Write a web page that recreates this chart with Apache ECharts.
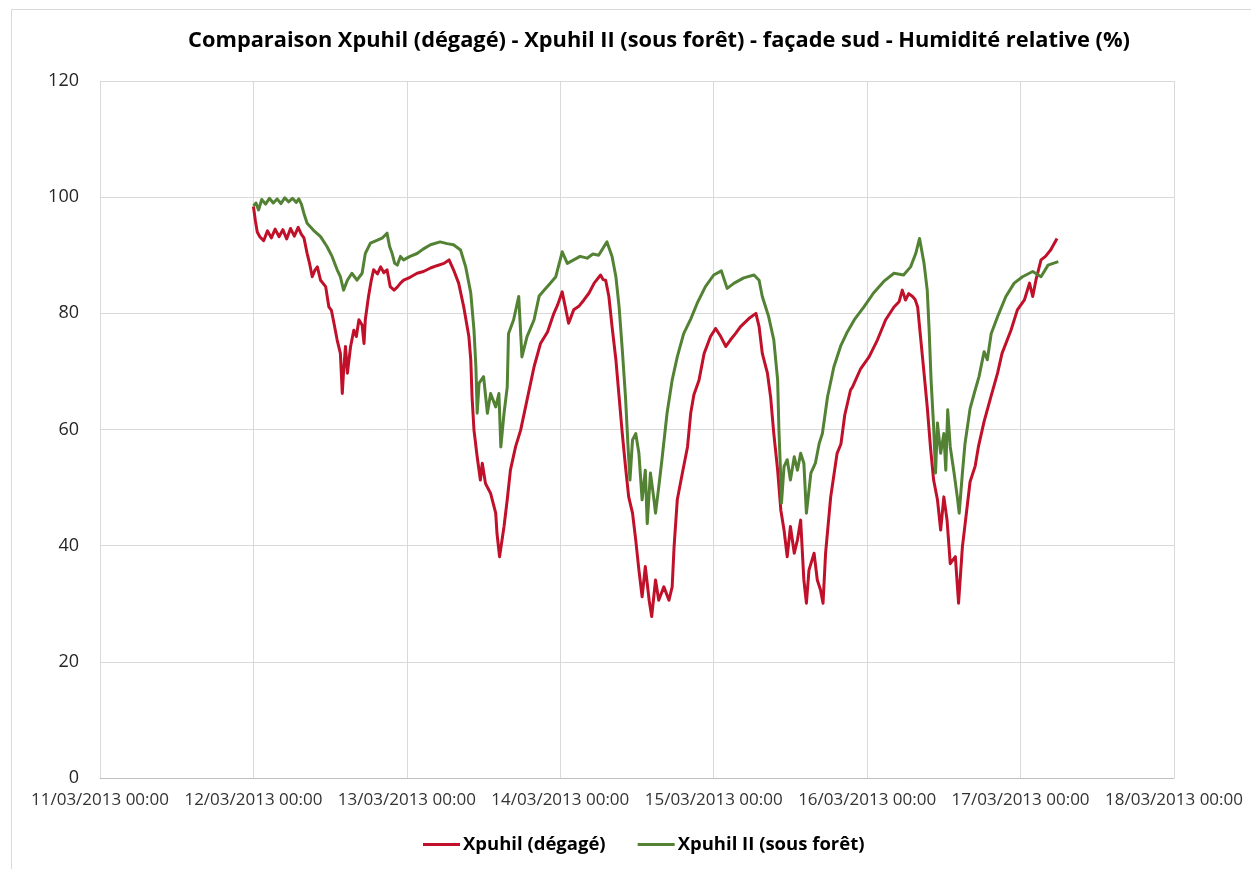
<!DOCTYPE html>
<html>
<head>
<meta charset="utf-8">
<title>Humidité relative - Xpuhil</title>
<script src="https://cdn.jsdelivr.net/npm/echarts@6/dist/echarts.min.js"></script>
<style>
  html, body { margin: 0; padding: 0; background: #ffffff; }
  #chart { width: 1251px; height: 869px; }
</style>
</head>
<body>
<div id="chart"></div>
<script>
// Axis range: hours counted from 11/03/2013 00:00, one tick per day
const AXIS_START = new Date(2013, 2, 11, 0, 0);
const AXIS_DAYS = 7;
// Records begin 12/03/2013 00:00 (24 h after the axis start)
const RECORD_OFFSET_H = 24;

const seriesNames = ['Xpuhil (dégagé)', 'Xpuhil II (sous forêt)'];

// Xpuhil (dégagé): hours since 12/03/2013 00:00 and relative humidity (%)
const redHours = [
  0, 0.3, 0.6, 1.0, 1.6, 2.2, 2.8, 3.4, 4.0, 4.6, 5.2, 5.8, 6.4, 7.0, 7.5, 7.9, 8.4, 8.8, 9.2, 9.6,
  10.0, 10.5, 11.3, 11.8, 12.2, 12.6, 13.1, 13.6, 13.9, 14.1, 14.4, 14.7, 15.2, 15.7, 16.1, 16.5, 17.0, 17.3, 17.5, 18.0,
  18.4, 18.8, 19.4, 19.9, 20.4, 20.9, 21.4, 22.0, 22.5, 23.0, 23.5, 24.5, 25.6, 26.6, 27.7, 28.7, 29.8, 30.6, 31.3, 32.1,
  32.9, 33.7, 34.0, 34.2, 34.5, 35.0, 35.5, 35.8, 36.3, 37.1, 37.9, 38.1, 38.5, 39.2, 39.7, 40.2, 41.0, 41.8, 42.8, 43.9,
  44.9, 46.0, 47.0, 47.6, 48.3, 48.8, 49.3, 50.1, 50.9, 51.7, 52.5, 53.3, 54.3, 54.7, 55.1, 55.6, 56.1, 56.7, 57.2, 57.7,
  58.2, 58.7, 59.3, 59.8, 60.3, 60.8, 61.3, 61.9, 62.3, 62.9, 63.4, 64.2, 65.0, 65.5, 65.8, 66.3, 67.1, 67.9, 68.4, 68.9,
  69.7, 70.5, 71.5, 72.3, 73.1, 73.9, 74.6, 75.4, 76.2, 77.5, 78.6, 79.1, 79.6, 80.4, 80.9, 81.4, 82.0, 82.5, 83.0, 83.5,
  84.0, 84.6, 85.1, 85.6, 86.1, 86.5, 86.9, 87.7, 88.2, 88.7, 89.1, 89.5, 90.3, 91.3, 91.9, 92.5, 93.4, 93.7, 95.0, 96.3,
  97.6, 98.9, 100.2, 101.0, 101.5, 102.0, 102.5, 103.1, 103.5, 103.9, 104.4, 104.9, 105.4, 105.9, 106.4, 107.0, 107.5, 108.0, 108.5, 109.0,
  109.8, 110.3, 110.9, 111.3, 112.1, 112.9, 113.4, 114.3, 115.3, 116.4, 117.1, 118.5, 119.5, 120.6, 121.4, 121.9, 122.4, 123.2, 123.9, 124.7,
  125.7
];
const redRH = [
  98.4, 96.0, 94.0, 93.2, 92.5, 94.2, 93.0, 94.5, 93.2, 94.4, 92.8, 94.6, 93.3, 94.8, 93.6, 93.0, 90.3, 88.5, 86.3, 87.4,
  88.0, 85.7, 84.6, 81.1, 80.5, 78.3, 75.4, 73.1, 66.2, 70.0, 74.3, 69.7, 74.3, 77.1, 76.0, 78.9, 78.0, 74.8, 78.9, 82.9,
  85.5, 87.5, 86.8, 88.0, 87.0, 87.5, 84.6, 84.0, 84.5, 85.2, 85.7, 86.2, 86.9, 87.2, 87.8, 88.2, 88.6, 89.2, 87.5, 85.2,
  81.1, 76.0, 72.0, 65.6, 59.9, 55.3, 51.3, 54.2, 50.7, 49.0, 45.6, 42.1, 38.1, 43.3, 47.9, 53.0, 57.0, 59.9, 65.1, 70.8,
  74.8, 76.8, 80.0, 81.5, 83.7, 81.0, 78.3, 80.6, 81.2, 82.3, 83.5, 85.2, 86.6, 85.8, 85.7, 82.9, 77.7, 72.0, 65.6, 59.3,
  53.6, 48.4, 45.6, 41.0, 35.8, 31.2, 36.4, 30.6, 27.8, 34.1, 30.6, 32.9, 30.6, 32.9, 39.8, 47.9, 52.5, 57.0, 62.8, 66.0,
  68.5, 73.1, 76.0, 77.4, 76.0, 74.3, 75.4, 76.5, 77.7, 79.1, 80.0, 77.7, 73.1, 69.7, 65.6, 59.3, 53.0, 46.1, 42.7, 38.1,
  43.3, 38.7, 41.0, 44.4, 34.1, 30.1, 35.8, 38.7, 34.1, 32.4, 30.1, 38.7, 48.4, 55.9, 57.5, 62.5, 66.8, 67.3, 70.5, 72.5,
  75.4, 78.9, 81.1, 82.0, 84.0, 82.3, 83.4, 82.9, 82.4, 81.1, 75.4, 69.7, 63.9, 57.0, 51.3, 47.9, 42.7, 48.4, 44.4, 36.9,
  38.1, 30.1, 39.8, 43.5, 51.0, 53.7, 57.0, 61.4, 65.4, 69.7, 73.1, 77.1, 80.6, 82.3, 85.2, 82.9, 85.7, 89.2, 89.8, 90.9,
  92.9
];

// Xpuhil II (sous forêt): hours since 12/03/2013 00:00 and relative humidity (%)
const greenHours = [
  0, 0.4, 0.8, 1.3, 1.9, 2.5, 3.1, 3.7, 4.3, 4.9, 5.5, 6.1, 6.7, 7.1, 7.5, 7.9, 8.4, 9.4, 10.5, 11.5,
  12.3, 13.1, 13.6, 14.1, 14.7, 15.4, 16.2, 17.0, 17.5, 18.3, 19.4, 20.2, 20.9, 21.3, 21.7, 22.1, 22.5, 23.0, 23.5, 24.5,
  25.6, 26.6, 27.7, 29.2, 30.3, 31.3, 32.4, 33.2, 34.0, 34.5, 34.8, 35.0, 35.3, 36.0, 36.6, 37.1, 37.9, 38.4, 38.7, 39.2,
  39.7, 39.9, 40.7, 41.5, 42.0, 42.8, 43.9, 44.7, 45.5, 46.3, 47.3, 48.3, 49.1, 50.1, 51.1, 52.2, 53.1, 54.0, 55.3, 56.1,
  56.7, 57.2, 57.7, 58.2, 58.6, 58.9, 59.3, 59.8, 60.3, 60.8, 61.3, 61.6, 62.1, 62.6, 62.9, 63.4, 63.9, 64.7, 65.5, 66.3,
  67.3, 68.4, 69.4, 70.7, 72.0, 73.2, 74.1, 75.2, 76.7, 78.3, 79.1, 79.6, 80.6, 81.4, 82.0, 82.2, 82.5, 82.6, 83.0, 83.5,
  84.0, 84.6, 85.1, 85.6, 86.1, 86.5, 87.2, 87.9, 88.5, 89.0, 89.8, 90.8, 91.9, 92.9, 94.0, 95.5, 97.0, 98.6, 100.2, 101.7,
  102.8, 103.6, 104.2, 104.9, 105.4, 105.7, 106.0, 106.4, 106.7, 107.0, 107.5, 108.0, 108.3, 108.6, 109.0, 109.6, 110.1, 110.4, 110.9, 111.3,
  112.1, 112.9, 113.5, 114.3, 114.8, 115.4, 116.5, 117.7, 119.0, 120.3, 121.9, 123.2, 124.3, 125.9
];
const greenRH = [
  98.5, 99.0, 97.8, 99.6, 98.8, 99.8, 99.0, 99.7, 98.9, 99.9, 99.2, 99.8, 99.1, 99.7, 98.8, 97.2, 95.5, 94.3, 93.2, 91.5,
  89.8, 87.5, 86.3, 84.0, 85.7, 86.9, 85.7, 86.9, 90.3, 92.1, 92.6, 93.0, 93.8, 91.5, 90.3, 88.6, 88.3, 89.8, 89.2, 89.8,
  90.3, 91.1, 91.8, 92.3, 92.0, 91.8, 90.9, 88.0, 83.5, 77.1, 70.8, 62.8, 68.0, 69.1, 62.8, 66.2, 63.9, 66.2, 57.0, 62.8,
  67.3, 76.5, 78.9, 82.9, 72.5, 76.0, 78.9, 83.0, 84.0, 85.0, 86.3, 90.6, 88.6, 89.2, 89.8, 89.5, 90.2, 90.0, 92.3, 89.8,
  86.3, 81.1, 73.7, 65.6, 57.0, 51.3, 58.2, 59.3, 55.9, 47.9, 53.0, 43.8, 52.5, 48.4, 45.6, 50.1, 54.8, 62.8, 68.5, 72.5,
  76.5, 79.0, 81.7, 84.6, 86.6, 87.3, 84.3, 85.2, 86.1, 86.6, 85.7, 82.9, 79.4, 75.4, 68.5, 59.9, 51.3, 47.3, 53.6, 54.8,
  51.3, 55.3, 53.0, 55.9, 54.2, 45.6, 52.5, 54.2, 57.6, 59.3, 65.6, 70.8, 74.5, 76.8, 78.9, 81.1, 83.5, 85.5, 86.9, 86.6,
  88.0, 90.3, 92.9, 88.6, 84.0, 77.1, 68.5, 60.5, 52.5, 61.1, 55.9, 59.3, 53.0, 63.4, 57.0, 52.5, 48.4, 45.6, 52.5, 57.5,
  63.6, 66.8, 69.1, 73.4, 72.0, 76.5, 79.7, 82.9, 85.2, 86.3, 87.2, 86.3, 88.3, 88.9
];

const yTicks = { min: 0, max: 120, step: 20 };

function pad(n) { return (n < 10 ? '0' : '') + n; }
function hoursToLabel(h) {
  const d = new Date(AXIS_START.getTime() + h * 3600 * 1000);
  return pad(d.getDate()) + '/' + pad(d.getMonth() + 1) + '/' + d.getFullYear() +
    ' ' + pad(d.getHours()) + ':' + pad(d.getMinutes());
}
function toPairs(hours, values) {
  return hours.map((h, i) => [h + RECORD_OFFSET_H, values[i]]);
}

const FONT = 'Open Sans';
const chart = echarts.init(document.getElementById('chart'), null, { renderer: 'canvas' });

chart.setOption({
  backgroundColor: '#ffffff',
  animation: false,
  textStyle: { fontFamily: FONT },
  title: {
    text: 'Comparaison Xpuhil (dégagé) - Xpuhil II (sous forêt) - façade sud - Humidité relative (%)',
    left: 654,
    top: 25,
    textAlign: 'center',
    textStyle: { fontFamily: FONT, fontWeight: 'bold', fontSize: 21.8, color: '#000000' }
  },
  legend: {
    data: seriesNames,
    bottom: 10,
    left: 418,
    icon: 'rect',
    itemWidth: 37,
    itemHeight: 3,
    itemGap: 32,
    textStyle: { fontFamily: FONT, fontWeight: 'bold', fontSize: 18.5, color: '#000000', padding: [0, 0, 0, -2] }
  },
  grid: { left: 100, right: 77, top: 81, bottom: 91, containLabel: false },
  xAxis: {
    type: 'value',
    min: 0,
    max: AXIS_DAYS * 24,
    interval: 24,
    axisLine: { show: true, lineStyle: { color: '#bfbfbf', width: 1 } },
    axisTick: { show: false },
    axisLabel: {
      margin: 14,
      fontFamily: FONT,
      fontSize: 17,
      color: '#333333',
      showMinLabel: true,
      showMaxLabel: true,
      hideOverlap: false,
      formatter: hoursToLabel
    },
    splitLine: { show: true, lineStyle: { color: '#d9d9d9', width: 1 } }
  },
  yAxis: {
    type: 'value',
    min: yTicks.min,
    max: yTicks.max,
    interval: yTicks.step,
    axisLine: { show: false },
    axisTick: { show: false },
    axisLabel: { margin: 21, fontFamily: FONT, fontSize: 18, color: '#262626' },
    splitLine: { show: true, lineStyle: { color: '#d9d9d9', width: 1 } }
  },
  graphic: [{
    type: 'rect',
    shape: { x: 11.5, y: 9.5, width: 1400, height: 1000 },
    style: { fill: null, stroke: '#d9d9d9', lineWidth: 1 },
    silent: true,
    z: -1
  }],
  series: [
    {
      name: seriesNames[0],
      type: 'line',
      data: toPairs(redHours, redRH),
      showSymbol: false,
      symbol: 'none',
      color: '#C0102A',
      lineStyle: { color: '#C0102A', width: 3, join: 'round' }
    },
    {
      name: seriesNames[1],
      type: 'line',
      data: toPairs(greenHours, greenRH),
      showSymbol: false,
      symbol: 'none',
      color: '#538234',
      lineStyle: { color: '#538234', width: 3, join: 'round' }
    }
  ]
});
</script>
</body>
</html>
